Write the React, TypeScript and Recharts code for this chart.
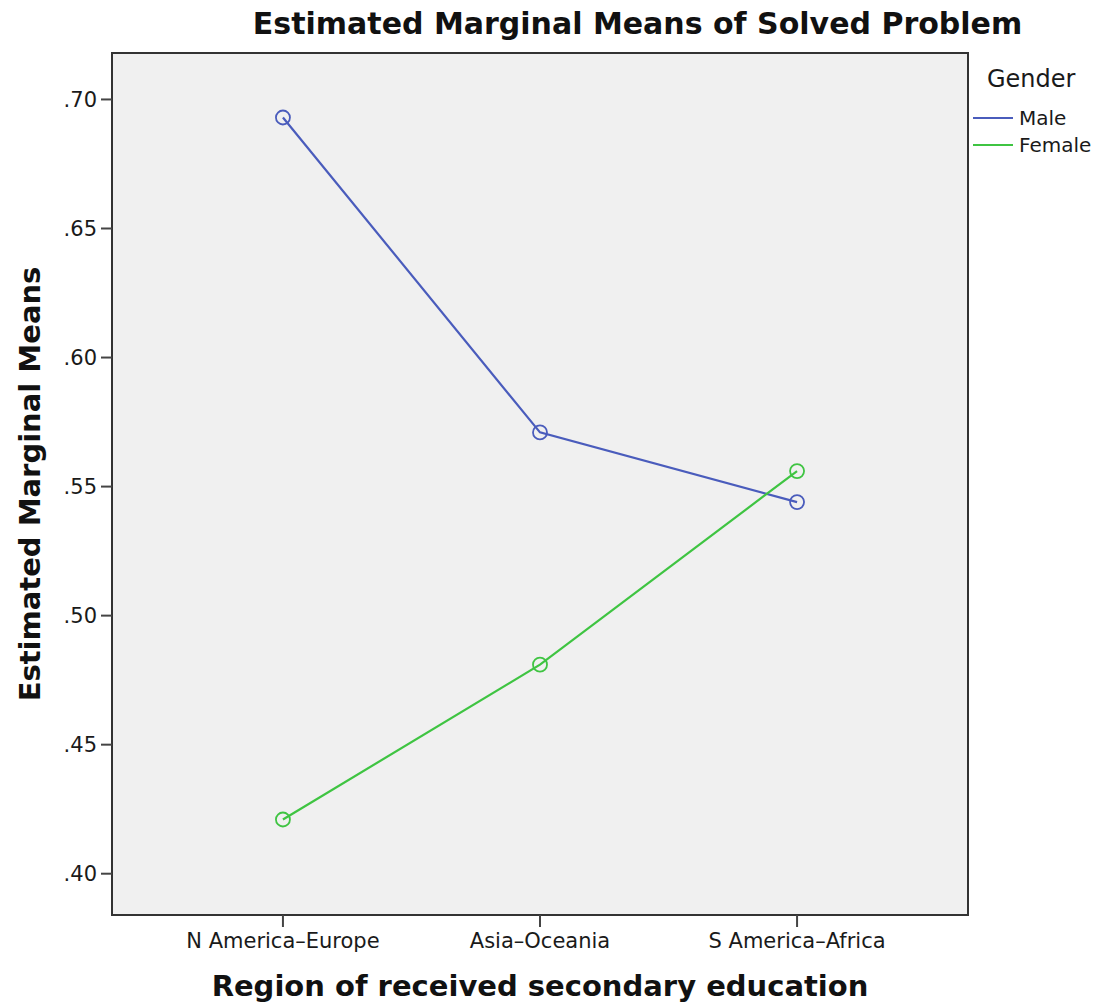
import { LineChart, Line, XAxis, YAxis, Legend, ReferenceArea } from "recharts";

const regions = ["N America–Europe", "Asia–Oceania", "S America–Africa"];
const male = [0.693, 0.571, 0.544];
const female = [0.421, 0.481, 0.556];
const yTicks = [0.4, 0.45, 0.5, 0.55, 0.6, 0.65, 0.7];
const Y_MIN = 0.384;
const Y_MAX = 0.718;
// categories sit at 0, 1, 2 on a numeric axis with room on both sides
const X_DOMAIN = [-0.665, 2.665];

const MALE_COLOR = "#4a5cbc";
const FEMALE_COLOR = "#3fc442";
const FONT = "'DejaVu Sans', sans-serif";

const data = regions.map((region, i) => ({
  idx: i,
  region,
  Male: male[i],
  Female: female[i],
}));

const fmt = (v: number) => v.toFixed(2).replace(/^0/, "");

function YTitle(props: any) {
  const vb = props.viewBox || {};
  const cx = 30;
  const cy = (vb.y ?? 53) + (vb.height ?? 862) / 2;
  return (
    <text
      x={cx}
      y={cy}
      transform={`rotate(-90 ${cx} ${cy})`}
      textAnchor="middle"
      dominantBaseline="central"
      fontFamily={FONT}
      fontWeight="bold"
      fontSize={29}
      fill="#111"
    >
      Estimated Marginal Means
    </text>
  );
}

function GenderLegend() {
  const items = [
    { name: "Male", color: MALE_COLOR },
    { name: "Female", color: FEMALE_COLOR },
  ];
  return (
    <div style={{ fontFamily: FONT, color: "#1a1a1a" }}>
      <div style={{ fontSize: 24, lineHeight: "30px", marginLeft: 14, marginBottom: 10 }}>Gender</div>
      {items.map((it) => (
        <div key={it.name} style={{ display: "flex", alignItems: "center", height: 27 }}>
          <span style={{ display: "inline-block", width: 40, height: 2, background: it.color, marginRight: 6 }} />
          <span style={{ fontSize: 20 }}>{it.name}</span>
        </div>
      ))}
    </div>
  );
}

export default function App() {
  return (
    <div style={{ position: "absolute", left: 0, top: 0, width: 1105, height: 1008, background: "#fff" }}>
      <div
        style={{
          position: "absolute",
          top: 6,
          left: 200,
          width: 875,
          textAlign: "center",
          fontFamily: FONT,
          fontWeight: "bold",
          fontSize: 30,
          color: "#111",
          whiteSpace: "nowrap",
        }}
      >
        Estimated Marginal Means of Solved Problem
      </div>
      <LineChart width={1105} height={1008} data={data} margin={{ top: 53, right: 7, bottom: 0, left: 0 }}>
        <ReferenceArea
          y1={Y_MIN}
          y2={Y_MAX}
          fill="#f0f0f0"
          fillOpacity={1}
          stroke="#333"
          strokeWidth={2}
          ifOverflow="visible"
        />
        <XAxis
          dataKey="idx"
          type="number"
          domain={X_DOMAIN}
          ticks={[0, 1, 2]}
          allowDataOverflow
          tickFormatter={(v: number) => regions[v] ?? ""}
          height={93}
          axisLine={{ stroke: "#333", strokeWidth: 2 }}
          tickLine={{ stroke: "#444", strokeWidth: 2 }}
          tickSize={12}
          tickMargin={6}
          tick={{ fill: "#1a1a1a", fontFamily: FONT, fontSize: 21 }}
          label={{
            value: "Region of received secondary education",
            position: "insideBottom",
            offset: 12,
            fill: "#111",
            fontFamily: FONT,
            fontWeight: "bold",
            fontSize: 29,
          }}
        />
        <YAxis
          width={112}
          domain={[Y_MIN, Y_MAX]}
          ticks={yTicks}
          allowDataOverflow
          tickFormatter={fmt}
          axisLine={{ stroke: "#333", strokeWidth: 2 }}
          tickLine={{ stroke: "#444", strokeWidth: 2 }}
          tickSize={11}
          tickMargin={4}
          tick={{ fill: "#1a1a1a", fontFamily: FONT, fontSize: 21 }}
          label={<YTitle />}
        />
        <Legend
          layout="vertical"
          verticalAlign="top"
          align="right"
          content={<GenderLegend />}
          wrapperStyle={{ top: 64, left: 973, width: 130 }}
        />
        <Line
          dataKey="Male"
          stroke={MALE_COLOR}
          strokeWidth={2.2}
          dot={{ r: 7, stroke: MALE_COLOR, strokeWidth: 1.8, fill: "none" }}
          activeDot={false}
          isAnimationActive={false}
        />
        <Line
          dataKey="Female"
          stroke={FEMALE_COLOR}
          strokeWidth={2.2}
          dot={{ r: 7, stroke: FEMALE_COLOR, strokeWidth: 1.8, fill: "none" }}
          activeDot={false}
          isAnimationActive={false}
        />
      </LineChart>
    </div>
  );
}
